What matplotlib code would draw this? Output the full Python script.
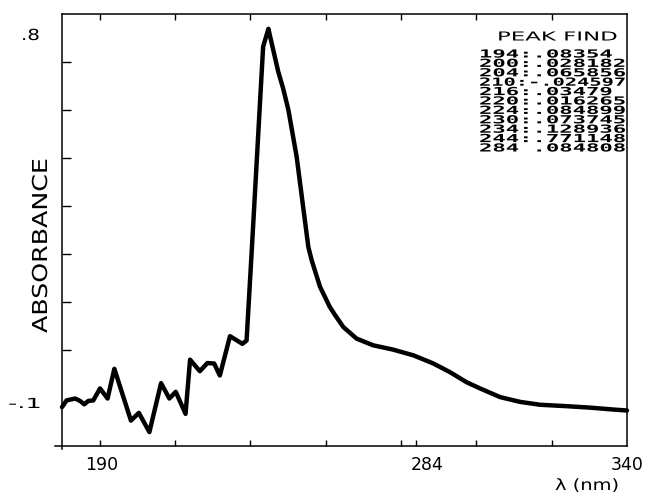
import matplotlib
matplotlib.use("Agg")
import matplotlib.pyplot as plt
from matplotlib.patheffects import AbstractPathEffect
from matplotlib.transforms import Affine2D

# ---------------- data ----------------
wavelength_nm = [190.0, 191.2, 193.5, 194.8, 195.9, 197.0, 198.3, 200.1, 202.1, 203.9,
                 208.3, 210.4, 213.2, 216.3, 218.5, 220.2, 222.8, 224.0, 226.6, 228.6,
                 230.4, 231.9, 234.6, 237.9, 239.0, 240.4, 242.6, 243.4, 244.8,
                 245.2, 247.4, 248.7, 250.1, 252.3, 255.4, 256.3, 258.5, 261.1, 262.5,
                 264.7, 268.2, 272.6, 277.9, 283.3, 288.6, 293.0, 297.4, 301.0, 306.3,
                 311.6, 316.9, 324.0, 330.2, 336.4, 340.0]
absorbance = [-0.020, -0.006, -0.002, -0.007, -0.014, -0.007, -0.006, 0.019, -0.002, 0.060,
              -0.048, -0.032, -0.072, 0.030, -0.002, 0.012, -0.034, 0.079, 0.055, 0.072,
              0.071, 0.046, 0.128, 0.112, 0.119, 0.310, 0.620, 0.732, 0.769,
              0.755, 0.680, 0.645, 0.600, 0.502, 0.314, 0.286, 0.231, 0.189, 0.172,
              0.147, 0.123, 0.109, 0.100, 0.088, 0.071, 0.053, 0.032, 0.019, 0.001,
              -0.009, -0.015, -0.018, -0.021, -0.025, -0.027]

peak_wavelengths = ["194", "200", "204", "210", "216", "220", "224", "230", "234", "244", "284"]
peak_values = [".08354", ".028182", ".065856", "-.024597", ".03479", ".016265",
               ".084899", ".073745", ".128936", ".771148", ".084808"]
peak_seps = [":", ":", ":", ":", ":", ":", ":", ":", ":", ":", " "]

x_ticks = [200, 220, 240, 260, 280, 300, 320]
x_extra_tick = [284]
y_ticks = [0.1, 0.2, 0.3, 0.4, 0.5, 0.6, 0.7]
x_limits = (190, 340)
y_limits = (-0.1, 0.8)

# ---------------- helpers ----------------
W, H = 648, 499


class Stretch(AbstractPathEffect):
    """Stretch text glyphs along the baseline (plotter-style wide lettering)."""
    def __init__(self, sx):
        super().__init__()
        self.sx = sx

    def draw_path(self, renderer, gc, tpath, affine, rgbFace=None):
        renderer.draw_path(gc, tpath, Affine2D().scale(self.sx, 1.0) + affine, rgbFace)


def fx(x):
    return x / W


def fy(y):
    return 1 - y / H


fig = plt.figure(figsize=(W / 100, H / 100), dpi=100)
fig.patch.set_facecolor("white")

ax_left, ax_top, ax_right, ax_bottom = 62, 14, 627, 445.5
ax = fig.add_axes([fx(ax_left), fy(ax_bottom), (ax_right - ax_left) / W, (ax_bottom - ax_top) / H])

ax.plot(wavelength_nm, absorbance, color="black", lw=3.2,
        solid_joinstyle="round", solid_capstyle="round", clip_on=False)

ax.set_xlim(*x_limits)
ax.set_ylim(*y_limits)

ax.set_xticks(x_ticks)
ax.set_xticks(x_extra_tick, minor=True)
ax.set_yticks(y_ticks)
ax.set_xticklabels([])
ax.set_yticklabels([])
ax.tick_params(axis="x", which="major", direction="in", top=True, bottom=True,
               length=4.5, width=1.0, color="black")
ax.tick_params(axis="x", which="minor", direction="in", top=False, bottom=True,
               length=4.5, width=1.0, color="black")
ax.tick_params(axis="y", which="major", direction="in", left=True, right=False,
               length=6.5, width=1.0, color="black")
for s in ax.spines.values():
    s.set_linewidth(1.1)
    s.set_color("black")
ax.spines["left"].set_bounds(-0.107, 0.8)
ax.spines["bottom"].set_bounds(188.2, 340)

# ---------------- axis texts ----------------
tick_font = dict(family="DejaVu Sans", fontsize=12.5, color="black")
fig.text(fx(102), fy(470), "190", ha="center", va="baseline", **tick_font)
fig.text(fx(427), fy(470), "284", ha="center", va="baseline", **tick_font)
fig.text(fx(627), fy(470), "340", ha="center", va="baseline", **tick_font)

fig.text(fx(21), fy(40), ".8", ha="left", va="baseline", family="DejaVu Sans",
         fontsize=11, color="black", path_effects=[Stretch(1.3)])
fig.text(fx(8), fy(408), "-.1", ha="left", va="baseline", family="DejaVu Sans",
         fontsize=10, color="black", path_effects=[Stretch(1.85)])

fig.text(fx(47), fy(333), "ABSORBANCE", rotation=90, rotation_mode="anchor",
         ha="left", va="baseline", family="DejaVu Sans", fontsize=14.8,
         color="black", path_effects=[Stretch(1.23)])

fig.text(fx(555), fy(490), "λ (nm)", ha="left", va="baseline", family="DejaVu Sans",
         fontsize=11.2, color="black", path_effects=[Stretch(1.25)])

# ---------------- peak find table ----------------
fig.text(fx(497), fy(40.5), "PEAK FIND", ha="left", va="baseline", family="DejaVu Sans",
         fontsize=8.9, color="black", path_effects=[Stretch(1.85)])
base_stretch = 2.0
for i, (wl, sep, val) in enumerate(zip(peak_wavelengths, peak_seps, peak_values)):
    line = f"{wl}{sep}{val}"
    sx = base_stretch * min(1.0, 11 / len(line))
    fig.text(fx(479), fy(57.5 + 9.4 * i), line, ha="left", va="baseline",
             family="DejaVu Sans Mono", fontsize=8.0, fontweight="bold", color="black",
             path_effects=[Stretch(sx)])

fig.savefig("out.png", dpi=100, facecolor="white")
